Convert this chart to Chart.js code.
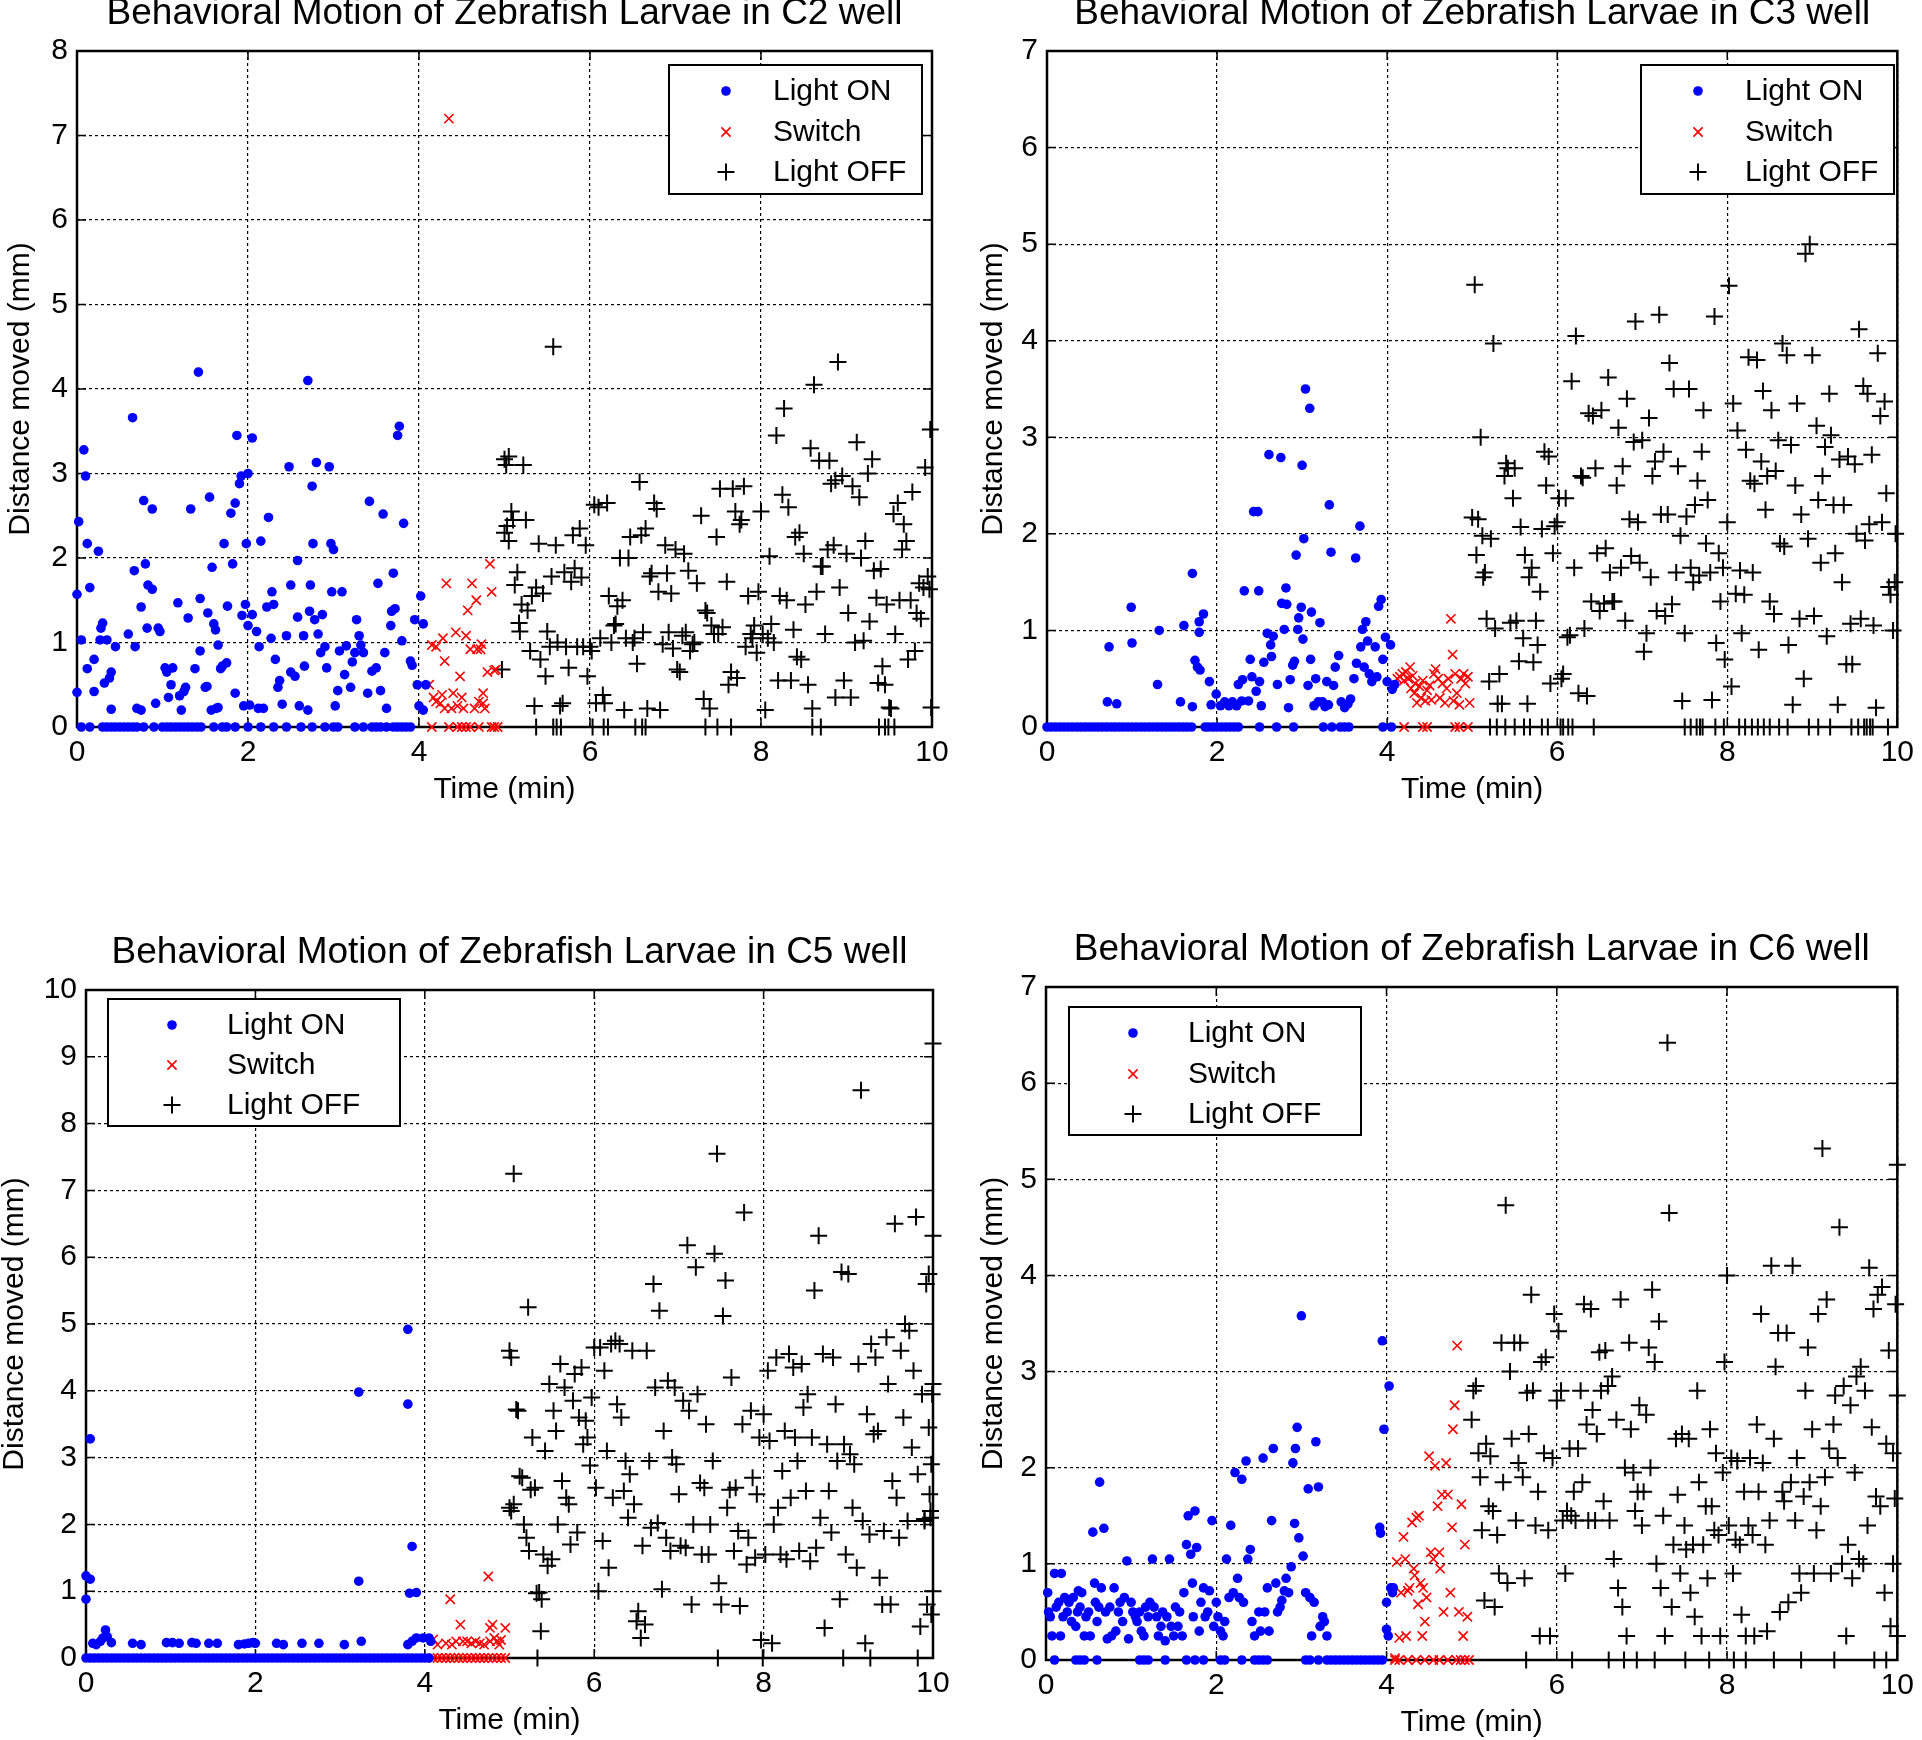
<!DOCTYPE html>
<html>
<head>
<meta charset="utf-8">
<script src="https://cdn.jsdelivr.net/npm/chart.js@4.4.1/dist/chart.umd.min.js"></script>
<style>
  html, body { margin: 0; padding: 0; background: #fff; }
  #wrap { position: relative; width: 1922px; height: 1740px; overflow: hidden; }
  canvas { position: absolute; }
</style>
</head>
<body>
<div id="wrap">
  <canvas id="c2" width="961" height="870" style="left:0;top:0"></canvas>
  <canvas id="c3" width="961" height="870" style="left:961px;top:0"></canvas>
  <canvas id="c5" width="961" height="870" style="left:0;top:870px"></canvas>
  <canvas id="c6" width="961" height="870" style="left:961px;top:870px"></canvas>
</div>
<script>
// ---- C2 well ----
const c2On = [[0,1.57],[0,0.41],[0.02,2.43],[0.05,1.03],[0.08,3.28],[0.1,2.97],[0.12,2.17],[0.15,1.65],[0.12,0.69],[0.2,0.8],[0.2,0.42],[0.25,2.08],[0.27,1.03],[0.28,1.17],[0.3,1.23],[0.32,0.52],[0.35,1.03],[0.38,0.58],[0.4,0.65],[0.4,0.21],[0.45,0.95],[0.6,1.1],[0.65,3.66],[0.67,1.85],[0.68,0.95],[0.7,0.22],[0.75,0.2],[0.75,1.42],[0.78,2.68],[0.8,1.93],[0.82,1.17],[0.83,1.68],[0.88,1.63],[0.88,2.58],[0.92,0.28],[0.95,1.17],[0.97,1.13],[1.03,0.7],[1.05,0.65],[1.07,0.35],[1.1,0.5],[1.12,0.7],[1.18,1.47],[1.2,0.37],[1.22,0.2],[1.25,0.42],[1.27,0.47],[1.3,1.29],[1.33,2.58],[1.38,0.69],[1.42,4.2],[1.44,1.52],[1.44,0.9],[1.5,0.47],[1.52,0.48],[1.55,2.72],[1.53,1.35],[1.57,0.2],[1.58,1.89],[1.6,1.22],[1.62,1.15],[1.63,0.22],[1.65,0.97],[1.65,0.23],[1.68,0.69],[1.7,0.72],[1.72,2.17],[1.75,0.76],[1.76,1.43],[1.8,2.53],[1.82,1.93],[1.85,2.65],[1.85,0.4],[1.87,3.45],[1.9,2.88],[1.92,2.97],[1.93,1.32],[1.95,0.25],[1.97,1.45],[1.98,2.17],[2,1.2],[2,3],[2.02,0.26],[2.05,1.33],[2.05,3.42],[2.1,1.13],[2.12,0.22],[2.13,0.95],[2.15,2.2],[2.18,0.22],[2.22,1.42],[2.24,2.48],[2.27,1.05],[2.28,1.6],[2.3,1.45],[2.32,0.8],[2.35,0.47],[2.37,0.55],[2.4,0.27],[2.45,1.08],[2.48,3.08],[2.5,1.68],[2.5,0.65],[2.55,0.6],[2.58,1.3],[2.58,1.97],[2.6,0.25],[2.65,1.08],[2.66,0.72],[2.7,0.2],[2.7,4.1],[2.72,1.37],[2.73,1.68],[2.75,2.85],[2.76,2.17],[2.78,1.27],[2.8,3.13],[2.82,1.1],[2.85,0.88],[2.87,1.33],[2.9,0.95],[2.92,0.7],[2.95,3.08],[2.97,2.17],[2.98,1.6],[3,2.1],[3.02,0.25],[3.05,0.43],[3.07,0.9],[3.1,1.6],[3.13,0.62],[3.15,0.96],[3.2,0.47],[3.22,0.77],[3.25,0.88],[3.27,1.27],[3.3,1.08],[3.32,0.97],[3.35,0.88],[3.4,0.4],[3.42,2.67],[3.45,0.66],[3.5,0.7],[3.52,1.7],[3.55,0.43],[3.58,2.52],[3.6,0.88],[3.62,0.22],[3.67,1.2],[3.68,1.37],[3.7,1.82],[3.72,1.4],[3.75,3.45],[3.77,3.56],[3.8,1.02],[3.82,2.41],[3.9,0.78],[3.92,0.73],[3.95,1.27],[3.98,0.5],[4,0.25],[4.02,1.55],[4.05,1.22],[4.05,0.2],[4.08,0.5]];
const c2OnZero = [0.05,0.15,0.3,0.35,0.4,0.45,0.5,0.55,0.6,0.65,0.7,0.78,0.9,1,1.05,1.1,1.15,1.2,1.25,1.3,1.35,1.4,1.45,1.6,1.7,1.75,1.85,2,2.15,2.3,2.45,2.62,2.75,2.9,3,3.05,3.25,3.35,3.45,3.5,3.55,3.62,3.7,3.75,3.8,3.85,3.9];
const c2Sw = [[4.15,0.97],[4.2,0.95],[4.12,0.5],[4.17,0.35],[4.2,0.3],[4.25,0.28],[4.27,0.38],[4.3,0.22],[4.28,1.05],[4.3,0.78],[4.32,1.7],[4.35,7.2],[4.38,0.22],[4.4,0.4],[4.43,1.12],[4.45,0.25],[4.48,0.6],[4.5,0.35],[4.52,0.22],[4.55,1.08],[4.57,1.38],[4.6,0.92],[4.62,1.7],[4.65,0.22],[4.67,1.5],[4.68,0.92],[4.7,0.3],[4.72,0.92],[4.73,0.98],[4.75,0.4],[4.77,0.22],[4.8,0.65],[4.83,1.93],[4.85,1.6],[4.88,0.67],[4.9,0.68],[4.75,0.28]];
const c2SwZero = [4.15,4.35,4.45,4.5,4.55,4.6,4.7,4.85,4.88,4.92];
const c2Off = [[4.97,0.68],[5,3.17],[5.02,3.1],[5.05,3.2],[5,2.3],[5.03,2.38],[5.05,2.2],[5.08,2.55],[5.1,2.45],[5.12,1.68],[5.15,1.83],[5.17,1.23],[5.2,1.45],[5.18,1.13],[5.22,3.1],[5.25,2.45],[5.27,1.38],[5.3,0.9],[5.32,1.55],[5.35,0.25],[5.37,1.65],[5.4,2.17],[5.42,0.8],[5.45,1.58],[5.48,0.6],[5.5,1.13],[5.53,0.95],[5.55,1.78],[5.57,4.5],[5.6,2.15],[5.62,1],[5.65,0.25],[5.68,0.28],[5.7,1.83],[5.72,0.95],[5.75,0.7],[5.78,1.72],[5.8,2.27],[5.82,1.88],[5.85,0.95],[5.88,2.35],[5.9,1.77],[5.92,0.95],[5.95,2.15],[5.97,0.6],[6,0.95],[6.02,0.9],[6.05,2.63],[6.07,0.28],[6.1,2.6],[6.12,1.05],[6.15,0.38],[6.17,0.28],[6.2,2.65],[6.22,1.55],[6.25,1],[6.28,1.2],[6.3,1.22],[6.32,1.43],[6.35,2],[6.38,1.5],[6.4,0.2],[6.42,1.05],[6.45,2],[6.47,2.25],[6.5,1],[6.52,1.05],[6.55,0.75],[6.58,2.9],[6.6,2.27],[6.62,1.12],[6.65,2.35],[6.67,0.22],[6.7,1.78],[6.72,1.82],[6.75,2.65],[6.78,2.58],[6.8,1.6],[6.82,0.2],[6.85,0.98],[6.88,2.15],[6.9,1.82],[6.92,1.12],[6.95,1.58],[6.97,0.93],[7,2.1],[7.02,0.68],[7.05,0.65],[7.08,1.08],[7.1,2.05],[7.12,1.12],[7.15,1.85],[7.17,0.9],[7.2,0.98],[7.22,1],[7.25,1.7],[7.3,2.5],[7.33,0.33],[7.35,1.38],[7.37,1.35],[7.4,0.22],[7.42,1.2],[7.45,1.1],[7.48,2.25],[7.5,1.1],[7.52,2.82],[7.55,1.18],[7.6,1.72],[7.62,0.5],[7.65,0.65],[7.67,2.82],[7.7,2.55],[7.72,0.58],[7.75,2.4],[7.77,2.45],[7.8,2.85],[7.82,0.95],[7.85,1.55],[7.88,1.1],[7.9,1.05],[7.92,1.2],[7.95,0.88],[7.97,1.6],[8,2.55],[8.02,1.1],[8.05,0.2],[8.08,1.05],[8.1,2.02],[8.12,1.22],[8.15,1],[8.18,3.45],[8.2,0.55],[8.22,1.55],[8.25,2.75],[8.27,3.77],[8.3,1.5],[8.32,2.6],[8.35,0.55],[8.38,1.15],[8.4,2.25],[8.42,0.83],[8.45,2.3],[8.47,0.8],[8.5,2.05],[8.52,1.45],[8.55,0.5],[8.58,3.3],[8.6,0.22],[8.62,4.05],[8.65,1.6],[8.68,3.15],[8.7,1.9],[8.72,1.9],[8.75,1.1],[8.78,2.1],[8.8,3.15],[8.82,2.88],[8.85,2.15],[8.87,2.92],[8.9,4.32],[8.92,1.65],[8.95,2.97],[8.97,0.55],[9,2.05],[9.02,1.35],[9.05,0.35],[9.07,2.85],[9.1,1],[9.12,3.37],[9.15,2.72],[9.17,2],[9.2,1.02],[9.22,2.2],[9.25,3],[9.27,1.25],[9.3,3.17],[9.32,1.85],[9.35,1.53],[9.37,0.52],[9.4,1.87],[9.42,0.72],[9.45,0.5],[9.47,1.45],[9.5,0.23],[9.52,0.22],[9.55,2.52],[9.57,1.1],[9.6,2.65],[9.62,1.5],[9.65,2.1],[9.67,2.4],[9.7,2.2],[9.72,0.8],[9.75,1.5],[9.77,2.78],[9.8,0.9],[9.82,1.35],[9.85,1.7],[9.87,1.28],[9.9,1.65],[9.92,3.07],[9.95,1.78],[9.97,1.63],[9.98,3.52],[9.99,0.23],[8.87,0.35]];
const c2OffZero = [5.37,5.57,5.61,5.66,6.03,6.16,6.21,6.53,6.61,6.65,7.35,7.49,7.65,8.6,8.7,9.38,9.45,9.49,9.56];

// ---- C3 well ----
const c3On = [[0.71,0.26],[0.82,0.24],[0.73,0.83],[0.99,1.24],[1,0.87],[1.3,0.44],[1.32,1],[1.57,0.26],[1.61,1.05],[1.71,1.59],[1.71,0.21],[1.74,0.69],[1.77,0.62],[1.79,1.09],[1.79,0.98],[1.8,0.59],[1.84,1.17],[1.91,0.47],[1.93,0.23],[1.99,0.34],[2.04,0.22],[2.09,0.26],[2.14,0.22],[2.18,0.26],[2.23,0.22],[2.29,0.27],[2.25,0.44],[2.3,0.49],[2.32,1.41],[2.37,0.27],[2.39,0.7],[2.41,0.52],[2.43,2.23],[2.48,2.23],[2.49,1.41],[2.46,0.37],[2.5,0.47],[2.52,0.22],[2.55,0.67],[2.59,0.97],[2.61,2.82],[2.63,0.85],[2.64,0.73],[2.66,0.94],[2.71,0.44],[2.75,2.79],[2.76,1.28],[2.79,1.01],[2.81,1.44],[2.82,1.27],[2.84,0.2],[2.86,0.49],[2.89,0.64],[2.91,0.68],[2.93,1.78],[2.95,1.01],[2.96,1.13],[2.99,1.24],[3,2.71],[3.01,0.91],[3.02,1.95],[3.04,3.5],[3.07,0.43],[3.09,3.3],[3.1,0.7],[3.11,1.19],[3.14,0.22],[3.16,0.5],[3.19,0.26],[3.21,1.08],[3.24,0.26],[3.27,0.21],[3.29,0.47],[3.31,0.23],[3.32,2.3],[3.34,1.81],[3.37,0.43],[3.39,0.62],[3.43,0.74],[3.46,0.26],[3.5,0.2],[3.54,0.24],[3.57,0.29],[3.61,0.5],[3.63,1.75],[3.64,0.66],[3.68,2.08],[3.69,0.83],[3.71,1.01],[3.73,0.62],[3.75,1.09],[3.77,0.89],[3.79,0.55],[3.82,0.47],[3.86,0.83],[3.88,0.52],[3.9,1.25],[3.93,1.32],[3.95,0.7],[3.98,0.93],[4,0.47],[4.04,0.85],[4.06,0.39],[4.09,0.44]];
const c3OnZero = [0,0.05,0.1,0.15,0.2,0.25,0.3,0.35,0.4,0.45,0.5,0.55,0.6,0.65,0.7,0.75,0.8,0.85,0.9,0.95,1,1.05,1.1,1.15,1.2,1.25,1.3,1.35,1.4,1.45,1.5,1.55,1.6,1.65,1.7,1.86,1.9,1.95,2,2.05,2.1,2.15,2.2,2.25,2.5,2.7,2.9,3.25,3.35,3.45,3.5,3.55,3.95,4.05];
const c3Sw = [[4.12,0.5],[4.15,0.52],[4.18,0.55],[4.2,0.48],[4.22,0.57],[4.25,0.5],[4.27,0.62],[4.28,0.4],[4.3,0.53],[4.32,0.35],[4.33,0.45],[4.35,0.25],[4.38,0.42],[4.4,0.3],[4.42,0.48],[4.45,0.27],[4.47,0.38],[4.5,0.43],[4.52,0.28],[4.55,0.55],[4.57,0.6],[4.6,0.5],[4.62,0.3],[4.65,0.45],[4.68,0.25],[4.7,0.4],[4.72,0.5],[4.75,1.12],[4.77,0.75],[4.78,0.27],[4.8,0.55],[4.82,0.35],[4.85,0.23],[4.87,0.5],[4.9,0.55],[4.92,0.45],[4.95,0.52],[4.97,0.25]];
const c3SwZero = [4.2,4.42,4.47,4.8,4.85,4.95];
const c3Off = [[5,2.17],[5.03,4.58],[5.05,1.78],[5.07,2.15],[5.1,3],[5.12,1.98],[5.13,1.55],[5.15,1.6],[5.17,1.12],[5.2,0.47],[5.22,1.95],[5.25,3.97],[5.27,1.02],[5.3,0.24],[5.32,0.55],[5.35,0.24],[5.38,2.6],[5.4,2.73],[5.42,2.68],[5.45,1.08],[5.48,2.37],[5.5,2.68],[5.52,1.1],[5.55,0.68],[5.57,2.07],[5.6,0.92],[5.62,1.78],[5.65,0.24],[5.67,1.55],[5.7,1.65],[5.72,0.67],[5.75,1.1],[5.77,0.85],[5.8,1.4],[5.82,2.05],[5.85,2.85],[5.87,2.5],[5.9,2.8],[5.92,0.45],[5.95,1.8],[5.97,2.08],[6,2.12],[6.02,2.37],[6.05,0.5],[6.07,0.55],[6.1,2.37],[6.12,0.93],[6.15,0.95],[6.17,3.58],[6.2,1.65],[6.22,4.05],[6.25,0.35],[6.28,2.6],[6.3,2.58],[6.32,1.02],[6.35,0.32],[6.37,3.25],[6.4,1.3],[6.42,3.22],[6.45,2.68],[6.47,1.8],[6.5,1.2],[6.52,3.28],[6.55,1.28],[6.57,1.85],[6.6,3.62],[6.62,1.6],[6.65,1.3],[6.67,1.3],[6.7,2.5],[6.72,3.1],[6.75,1.65],[6.77,2.7],[6.8,1.1],[6.82,3.4],[6.85,2.15],[6.87,1.77],[6.9,2.95],[6.92,4.2],[6.95,2.12],[6.97,1.7],[7,2.97],[7.02,0.78],[7.05,0.97],[7.08,3.2],[7.1,1.55],[7.12,2.6],[7.15,2.75],[7.17,1.2],[7.2,4.27],[7.22,2.2],[7.25,2.85],[7.27,1.15],[7.3,2.2],[7.32,3.77],[7.35,1.27],[7.37,3.5],[7.4,1.6],[7.42,2.7],[7.45,1.98],[7.47,0.27],[7.5,0.97],[7.52,2.18],[7.55,3.5],[7.57,1.65],[7.6,1.5],[7.62,2.3],[7.65,2.55],[7.67,1.57],[7.7,2.85],[7.72,3.28],[7.75,1.9],[7.77,2.35],[7.8,1.6],[7.82,0.28],[7.85,4.25],[7.87,0.87],[7.9,1.8],[7.92,1.3],[7.95,1.65],[7.97,0.7],[8,2.12],[8.02,4.57],[8.05,0.42],[8.07,3.35],[8.1,1.38],[8.12,3.07],[8.15,1.62],[8.17,0.97],[8.2,1.37],[8.22,2.87],[8.25,3.83],[8.27,2.55],[8.3,1.6],[8.32,2.52],[8.35,3.8],[8.37,0.8],[8.4,2.75],[8.42,3.48],[8.45,2.25],[8.47,2.6],[8.5,1.3],[8.52,3.28],[8.55,1.17],[8.57,2.65],[8.6,2.97],[8.62,1.9],[8.65,3.97],[8.67,1.87],[8.7,3.85],[8.72,0.85],[8.75,2.92],[8.77,0.23],[8.8,2.5],[8.82,3.35],[8.85,1.12],[8.87,2.2],[8.9,0.5],[8.92,4.9],[8.95,1.95],[8.97,5],[9,3.85],[9.02,1.15],[9.05,3.12],[9.07,2.35],[9.1,1.7],[9.12,2.6],[9.15,2.9],[9.17,0.94],[9.2,3.45],[9.22,3.02],[9.25,2.3],[9.27,1.8],[9.3,0.23],[9.32,2.77],[9.35,1.5],[9.37,2.3],[9.4,0.65],[9.42,2.8],[9.45,1.07],[9.47,0.65],[9.5,2.72],[9.52,2],[9.55,4.12],[9.57,1.12],[9.6,3.53],[9.62,1.93],[9.65,3.45],[9.67,2.1],[9.7,2.82],[9.72,1.05],[9.75,0.2],[9.77,3.87],[9.8,3.22],[9.82,2.12],[9.85,3.37],[9.87,2.42],[9.9,1.45],[9.92,1.37],[9.95,1],[9.97,1.5],[9.98,2]];
const c3OffZero = [5.21,5.29,5.39,5.5,5.61,5.68,5.82,5.89,6.04,6.07,6.13,6.18,6.43,7.5,7.57,7.64,7.68,7.71,7.86,7.96,8.14,8.21,8.29,8.36,8.43,8.5,8.61,8.71,8.96,9.07,9.21,9.46,9.54,9.61,9.64,9.68,9.71,9.89];

// ---- C5 well ----
const c5On = [[0,0.88],[0,1.23],[0.05,1.18],[0.05,3.28],[0.08,0.22],[0.12,0.2],[0.17,0.25],[0.2,0.3],[0.23,0.42],[0.25,0.32],[0.3,0.23],[0.55,0.22],[0.65,0.2],[0.95,0.23],[1.02,0.23],[1.1,0.22],[1.25,0.23],[1.3,0.22],[1.45,0.22],[1.55,0.22],[1.8,0.2],[1.87,0.21],[1.92,0.22],[1.97,0.23],[2,0.22],[2.25,0.22],[2.33,0.2],[2.55,0.22],[2.75,0.22],[3.05,0.2],[3.22,3.98],[3.22,1.15],[3.25,0.25],[3.8,4.92],[3.8,3.8],[3.85,1.67],[3.82,0.97],[3.9,0.98],[3.8,0.2],[3.85,0.25],[3.9,0.3],[3.98,0.3],[4.05,0.3],[4.07,0.25]];
const c5OnZero = [0,0.05,0.1,0.15,0.2,0.25,0.3,0.35,0.4,0.45,0.5,0.55,0.6,0.65,0.7,0.75,0.8,0.85,0.9,0.95,1,1.05,1.1,1.15,1.2,1.25,1.3,1.35,1.4,1.45,1.5,1.55,1.6,1.65,1.7,1.75,1.8,1.85,1.9,1.95,2,2.05,2.1,2.15,2.2,2.25,2.3,2.35,2.4,2.45,2.5,2.55,2.6,2.65,2.7,2.75,2.8,2.85,2.9,2.95,3,3.05,3.1,3.15,3.2,3.25,3.3,3.35,3.4,3.45,3.5,3.55,3.6,3.65,3.7,3.75,3.8,3.85,3.9,3.95,4,4.05];
const c5Sw = [[4.1,0.28],[4.15,0.2],[4.25,0.22],[4.3,0.88],[4.32,0.2],[4.37,0.25],[4.42,0.5],[4.45,0.25],[4.5,0.25],[4.55,0.22],[4.6,0.25],[4.65,0.22],[4.7,0.2],[4.75,1.22],[4.77,0.45],[4.8,0.5],[4.82,0.3],[4.85,0.25],[4.88,0.2],[4.9,0.27],[4.95,0.45],[4.77,0.25]];
const c5SwZero = [4.1,4.15,4.2,4.25,4.3,4.35,4.4,4.45,4.5,4.55,4.6,4.65,4.7,4.75,4.8,4.85,4.9,4.95];
const c5Off = [[5,4.6],[5.02,4.5],[5.05,7.25],[5,2.25],[5.02,2.2],[5.05,2.3],[5.08,3.72],[5.1,3.7],[5.12,2.72],[5.15,2.7],[5.17,2],[5.2,1.8],[5.22,5.25],[5.23,1.6],[5.25,2.52],[5.27,3.3],[5.3,2.55],[5.32,0.97],[5.35,0.98],[5.37,0.4],[5.38,0.88],[5.4,1.55],[5.42,3.1],[5.45,1.38],[5.47,4.1],[5.5,1.48],[5.52,3.7],[5.55,3.4],[5.57,2],[5.6,4.4],[5.62,2.65],[5.65,4.05],[5.67,2.4],[5.7,2.3],[5.72,1.7],[5.75,3.85],[5.77,4.25],[5.8,1.88],[5.82,3.6],[5.85,4.35],[5.87,3.2],[5.9,3.55],[5.92,3.3],[5.95,2.88],[5.97,3.9],[6,4.65],[6.02,2.55],[6.05,1],[6.07,4.65],[6.1,1.75],[6.12,4.3],[6.15,3.1],[6.17,1.35],[6.2,4.7],[6.22,2.4],[6.25,4.75],[6.27,3.8],[6.3,4.7],[6.32,3.6],[6.35,2.5],[6.37,2.95],[6.4,2.1],[6.42,2.75],[6.45,4.6],[6.47,2.3],[6.5,0.55],[6.52,0.7],[6.55,0.3],[6.57,1.68],[6.6,0.5],[6.62,4.6],[6.65,2.95],[6.67,1.95],[6.7,5.6],[6.72,4.05],[6.75,2.02],[6.77,5.2],[6.8,1.03],[6.82,3.4],[6.85,1.8],[6.87,4.15],[6.9,1.6],[6.92,3],[6.95,4.05],[6.97,2.9],[7,2.45],[7.02,1.68],[7.05,3.85],[7.08,1.65],[7.1,6.18],[7.12,3.7],[7.15,0.8],[7.17,2],[7.2,5.85],[7.22,3.95],[7.25,2.62],[7.27,1.55],[7.3,2.55],[7.32,3.5],[7.35,1.55],[7.37,2],[7.4,2.95],[7.42,6.05],[7.45,7.55],[7.47,1.12],[7.5,0.8],[7.52,5.12],[7.55,5.65],[7.57,2.25],[7.6,2.52],[7.62,4.2],[7.65,1.6],[7.67,2.55],[7.7,1.9],[7.72,0.78],[7.75,3.5],[7.77,6.67],[7.8,1.4],[7.82,1.8],[7.85,3.7],[7.87,2.7],[7.9,1.5],[7.92,2.45],[7.95,3.3],[7.97,0.27],[8,3.65],[8.02,1.55],[8.05,4.3],[8.07,3.25],[8.1,0.22],[8.12,2],[8.15,4.5],[8.17,2.25],[8.2,1.55],[8.22,2.8],[8.25,3.4],[8.27,1.48],[8.3,4.55],[8.32,2.4],[8.35,4.35],[8.37,3.3],[8.4,2.95],[8.42,1.6],[8.45,4.4],[8.47,3.75],[8.5,2.5],[8.52,3.95],[8.55,1.45],[8.57,3.3],[8.6,5.5],[8.62,1.65],[8.65,6.32],[8.67,2.1],[8.7,4.55],[8.72,0.45],[8.75,3.2],[8.77,2.5],[8.8,1.88],[8.82,4.5],[8.85,3.8],[8.87,2.95],[8.9,0.88],[8.92,5.78],[8.95,3.2],[8.97,1.55],[9,5.75],[9.02,3.05],[9.05,2.25],[9.07,2.9],[9.1,1.35],[9.12,4.4],[9.15,8.5],[9.17,2.05],[9.2,0.22],[9.22,3.65],[9.25,1.85],[9.27,4.7],[9.3,3.35],[9.32,4.5],[9.35,3.4],[9.37,1.2],[9.4,0.8],[9.42,1.9],[9.45,4.8],[9.47,4.1],[9.5,0.8],[9.52,2.65],[9.55,6.5],[9.57,2.4],[9.6,1.8],[9.62,4.6],[9.65,3.6],[9.67,5],[9.7,2.05],[9.72,4.9],[9.75,3.15],[9.77,4.3],[9.8,6.6],[9.82,2.75],[9.85,0.47],[9.87,3.95],[9.9,2.05],[9.92,5.6],[9.95,5.75],[9.97,2.1],[9.98,0.65],[10,4.1],[10,1],[9.95,3.45],[9.9,2.08],[9.93,0.8],[10,9.2],[10,6.32],[9.97,2.2],[9.98,2.9],[9.99,3.95],[9.96,2.45]];
const c5OffZero = [5.33,7.46,7.99,8.94,9.26,9.82];

// ---- C6 well ----
const c6On = [[0.02,0.7],[0.03,0.5],[0.05,0.45],[0.07,0.25],[0.1,0.9],[0.12,0.55],[0.15,0.6],[0.17,0.25],[0.18,0.9],[0.2,0.45],[0.22,0.65],[0.25,0.5],[0.27,0.6],[0.3,0.4],[0.32,0.65],[0.35,0.35],[0.37,0.5],[0.38,0.72],[0.4,0.55],[0.42,0.7],[0.45,0.25],[0.47,0.45],[0.5,0.5],[0.52,0.25],[0.55,1.33],[0.57,0.8],[0.58,0.6],[0.6,0.4],[0.62,0.55],[0.63,1.85],[0.65,0.75],[0.68,1.37],[0.7,0.5],[0.72,0.22],[0.75,0.55],[0.77,0.25],[0.8,0.75],[0.82,0.3],[0.85,0.5],[0.87,0.6],[0.9,0.4],[0.92,0.65],[0.95,1.03],[0.97,0.22],[1,0.6],[1.02,0.5],[1.05,0.45],[1.07,0.4],[1.1,0.5],[1.12,0.3],[1.15,0.25],[1.17,0.55],[1.2,0.45],[1.22,0.6],[1.25,1.05],[1.27,0.55],[1.3,0.45],[1.32,0.25],[1.35,0.35],[1.37,0.5],[1.4,0.2],[1.42,0.45],[1.45,1.05],[1.47,0.35],[1.5,0.25],[1.52,0.55],[1.55,0.35],[1.57,0.5],[1.6,0.25],[1.62,0.7],[1.65,1.2],[1.67,1.5],[1.7,1.1],[1.72,0.8],[1.73,0.45],[1.75,1.55],[1.77,1.17],[1.8,0.3],[1.82,0.6],[1.85,0.75],[1.87,0.45],[1.9,0.5],[1.92,0.72],[1.95,1.45],[1.97,0.35],[2,0.6],[2.02,0.45],[2.05,0.3],[2.08,0.25],[2.1,0.4],[2.12,1.05],[2.15,0.65],[2.17,1.4],[2.2,0.7],[2.22,1.95],[2.25,0.85],[2.27,0.65],[2.3,1.88],[2.32,0.6],[2.35,2.07],[2.37,1.05],[2.4,1.15],[2.42,0.4],[2.45,0.25],[2.5,0.5],[2.52,0.3],[2.55,2.1],[2.57,0.5],[2.6,0.75],[2.62,0.3],[2.65,1.45],[2.67,2.2],[2.7,0.8],[2.72,0.5],[2.75,0.55],[2.77,0.62],[2.8,0.72],[2.82,0.85],[2.85,0.7],[2.88,0.97],[2.9,2.05],[2.92,1.42],[2.93,2.2],[2.95,2.42],[2.97,1.27],[3,3.58],[3.02,1.08],[3.05,0.7],[3.08,1.78],[3.1,0.65],[3.12,0.25],[3.15,0.6],[3.17,2.27],[3.2,1.8],[3.22,0.35],[3.25,0.45],[3.27,0.4],[3.3,0.25],[3.92,1.38],[3.93,1.32],[3.95,3.32],[3.97,2.4],[4,0.6],[4.02,0.25],[4.03,2.85],[4.05,0.75],[4.07,0.7],[4,0.32],[4.08,0.75]];
const c6OnZero = [0.1,0.35,0.4,0.45,0.6,1.1,1.15,1.2,1.4,1.65,1.75,1.85,2.05,2.1,2.3,2.45,2.5,2.55,2.6,3.05,3.1,3.2,3.3,3.35,3.4,3.45,3.5,3.55,3.6,3.65,3.7,3.75,3.8,3.85,3.9,3.95];
const c6Sw = [[4.1,0.02],[4.12,1.02],[4.15,0.23],[4.17,0.7],[4.2,1.28],[4.22,1.05],[4.23,0.25],[4.25,0.72],[4.27,0.75],[4.3,1.43],[4.32,0.95],[4.33,0.88],[4.35,1.48],[4.37,0.58],[4.38,1.5],[4.4,0.8],[4.42,0.25],[4.43,0.75],[4.45,0.4],[4.47,0.65],[4.5,2.12],[4.52,1.12],[4.55,1.05],[4.57,2.02],[4.6,1.6],[4.62,1.12],[4.63,0.95],[4.65,1.72],[4.67,0.5],[4.7,2.05],[4.72,1.72],[4.75,0.7],[4.77,1.38],[4.78,2.4],[4.8,2.65],[4.83,3.27],[4.85,0.5],[4.88,1.62],[4.9,0.25],[4.92,1.2],[4.95,0.45]];
const c6SwZero = [4.1,4.15,4.25,4.35,4.45,4.55,4.62,4.72,4.82,4.87,4.92,4.97];
const c6Off = [[5,2.5],[5.02,2.8],[5.05,2.85],[5.08,2.15],[5.1,1.9],[5.12,1.35],[5.15,0.62],[5.17,2.25],[5.2,1.6],[5.22,2.12],[5.25,1.55],[5.27,0.55],[5.3,1.3],[5.32,0.9],[5.35,3.3],[5.37,1.85],[5.4,4.73],[5.42,0.8],[5.45,3],[5.47,2.3],[5.5,3.3],[5.52,1.45],[5.55,2.05],[5.57,3.3],[5.6,1.9],[5.62,0.85],[5.65,2.78],[5.67,2.35],[5.7,3.8],[5.72,2.8],[5.75,1.4],[5.78,1.75],[5.8,0.25],[5.82,3.1],[5.85,2.15],[5.87,3.15],[5.9,1.35],[5.92,0.25],[5.95,2.1],[5.97,3.6],[6,2.7],[6.02,3.42],[6.05,2.8],[6.07,1.45],[6.1,0.9],[6.12,1.55],[6.15,2.2],[6.17,1.5],[6.2,1.75],[6.22,1.45],[6.25,2.2],[6.28,2.8],[6.3,1.85],[6.32,3.7],[6.35,2.45],[6.37,1.45],[6.4,3.65],[6.42,2.6],[6.45,1.45],[6.47,2.35],[6.5,3.2],[6.52,2.8],[6.55,1.65],[6.57,3.22],[6.6,2.85],[6.62,1.45],[6.65,2.95],[6.67,1.05],[6.7,2.5],[6.72,0.75],[6.75,3.75],[6.77,0.55],[6.8,2],[6.82,0.25],[6.85,3.3],[6.87,2.4],[6.9,1.95],[6.92,1.55],[6.95,1.75],[6.97,2.65],[7,1.4],[7.02,1.75],[7.05,2.55],[7.08,3.25],[7.1,2],[7.12,3.85],[7.15,3.1],[7.17,1],[7.2,3.52],[7.22,0.75],[7.25,1.5],[7.27,0.25],[7.3,6.42],[7.32,4.65],[7.35,0.55],[7.37,1.2],[7.4,2.3],[7.42,1.72],[7.45,0.9],[7.47,2.35],[7.5,1.4],[7.52,1.15],[7.55,2.3],[7.57,0.7],[7.6,1.2],[7.62,0.45],[7.65,2.8],[7.67,1.85],[7.7,0.25],[7.72,1.2],[7.75,1.6],[7.77,0.85],[7.8,2.4],[7.82,1.6],[7.85,1.35],[7.87,2.15],[7.9,1.3],[7.92,0.25],[7.95,1.95],[7.97,3.1],[8,4],[8.02,1.4],[8.05,2.1],[8.07,0.9],[8.1,1.25],[8.12,2.07],[8.15,1.2],[8.17,0.47],[8.2,1.75],[8.22,0.25],[8.25,1.4],[8.27,2.1],[8.3,1.3],[8.32,0.25],[8.35,2.45],[8.37,1.75],[8.4,3.6],[8.42,2.05],[8.45,1.2],[8.47,0.3],[8.5,1.45],[8.52,4.1],[8.55,2.3],[8.57,3.05],[8.6,3.4],[8.62,0.5],[8.65,1.75],[8.67,1.65],[8.7,3.4],[8.72,0.6],[8.75,1.85],[8.77,4.1],[8.8,1.45],[8.82,2.1],[8.85,0.9],[8.87,0.7],[8.9,1.7],[8.92,2.8],[8.95,3.25],[8.97,1.85],[9,2.4],[9.02,0.9],[9.05,1.35],[9.07,3.6],[9.1,1.6],[9.12,5.32],[9.15,1.9],[9.17,3.75],[9.2,2.2],[9.22,0.9],[9.25,2.45],[9.27,2.75],[9.3,2.1],[9.32,4.5],[9.35,1],[9.37,2.85],[9.4,0.25],[9.42,1.2],[9.45,2.65],[9.47,0.85],[9.5,1.95],[9.52,2.95],[9.55,1.05],[9.57,3.05],[9.6,1],[9.62,2.8],[9.65,1.4],[9.67,4.08],[9.7,2.42],[9.72,3.65],[9.75,1.7],[9.77,3.8],[9.8,1.6],[9.82,3.88],[9.85,0.7],[9.87,2.25],[9.9,3.22],[9.92,0.35],[9.95,2.15],[9.97,1.68],[9.98,3.7],[10,5.15],[10,2.75],[10,0.25],[9.95,1]];
const c6OffZero = [5.64,6.18,6.61,6.79,6.94,7.15,7.51,7.79,8.08,8.22,8.55,8.87,9.26,9.73,9.87];

const seriesLabels = ["Light ON", "Switch", "Light OFF"];
const xTicksMax = 10;

const FONT = '"Liberation Sans", Arial, Helvetica, sans-serif';

// Layout of each panel in page pixels: canvas box and plot area
const panels = [
  { id: "c2", title: "Behavioral Motion of Zebrafish Larvae in C2 well", yMax: 8,
    box: [0, 0, 961, 870], plot: [77, 51, 932, 727], yLabelOff: 56,
    legend: { left: 669, top: 65, w: 253, h: 129, mx: 57, tx: 104, rows: [26, 67, 107] },
    on: c2On, onZero: c2OnZero, sw: c2Sw, swZero: c2SwZero, off: c2Off, offZero: c2OffZero },
  { id: "c3", title: "Behavioral Motion of Zebrafish Larvae in C3 well", yMax: 7,
    box: [961, 0, 961, 870], plot: [1047, 51, 1904, 727], yLabelOff: 53,
    legend: { left: 1641, top: 65, w: 253, h: 129, mx: 57, tx: 104, rows: [26, 67, 107] },
    on: c3On, onZero: c3OnZero, sw: c3Sw, swZero: c3SwZero, off: c3Off, offZero: c3OffZero },
  { id: "c5", title: "Behavioral Motion of Zebrafish Larvae in C5 well", yMax: 10,
    box: [0, 870, 961, 870], plot: [86, 990, 933, 1658], yLabelOff: 71,
    legend: { left: 108, top: 999, w: 292, h: 127, mx: 64, tx: 119, rows: [26, 66, 106] },
    on: c5On, onZero: c5OnZero, sw: c5Sw, swZero: c5SwZero, off: c5Off, offZero: c5OffZero },
  { id: "c6", title: "Behavioral Motion of Zebrafish Larvae in C6 well", yMax: 7,
    box: [961, 870, 961, 870], plot: [1046, 987, 1901, 1660], yLabelOff: 52,
    legend: { left: 1069, top: 1007, w: 292, h: 128, mx: 64, tx: 119, rows: [26, 67, 107] },
    on: c6On, onZero: c6OnZero, sw: c6Sw, swZero: c6SwZero, off: c6Off, offZero: c6OffZero },
];

const styles = [
  { pointStyle: "circle", pointRadius: 4.8, backgroundColor: "#0000ff", borderColor: "#0000ff", borderWidth: 0 },
  { pointStyle: "crossRot", pointRadius: 6.5, backgroundColor: "#ff0000", borderColor: "#ff0000", borderWidth: 1.6 },
  { pointStyle: "cross", pointRadius: 8.5, backgroundColor: "#000000", borderColor: "#000000", borderWidth: 2 },
];

function toPoints(pairs, zeros) {
  const pts = pairs.map((p) => ({ x: p[0], y: p[1] }));
  zeros.forEach((x) => pts.push({ x: x, y: 0 }));
  return pts;
}

// Frame, inward ticks, titles and legend in the MATLAB look
const matlabAxes = {
  id: "matlabAxes",
  beforeDatasetsDraw(chart, args, opts) {
    const { ctx, chartArea: a, scales } = chart;
    ctx.save();
    ctx.strokeStyle = "#000";
    ctx.setLineDash([]);
    ctx.lineWidth = 1.5;
    ctx.beginPath();
    scales.x.ticks.forEach((t) => {
      const px = scales.x.getPixelForValue(t.value);
      ctx.moveTo(px, a.bottom); ctx.lineTo(px, a.bottom - 9);
      ctx.moveTo(px, a.top); ctx.lineTo(px, a.top + 9);
    });
    scales.y.ticks.forEach((t) => {
      const py = scales.y.getPixelForValue(t.value);
      ctx.moveTo(a.left, py); ctx.lineTo(a.left + 9, py);
      ctx.moveTo(a.right, py); ctx.lineTo(a.right - 9, py);
    });
    ctx.stroke();
    ctx.lineWidth = 2.5;
    ctx.strokeRect(a.left, a.top, a.right - a.left, a.bottom - a.top);
    ctx.restore();
  },
  afterDraw(chart, args, opts) {
    const { ctx, chartArea: a } = chart;
    const p = opts.panel;
    const ox = p.box[0], oy = p.box[1];
    const cx = (a.left + a.right) / 2;
    ctx.save();
    ctx.fillStyle = "#000";
    ctx.textAlign = "center";
    ctx.textBaseline = "middle";
    ctx.font = "37px " + FONT;
    ctx.fillText(p.title, cx, a.top - 37);
    ctx.font = "30px " + FONT;
    ctx.fillText("Time (min)", cx, a.bottom + 63);
    ctx.save();
    ctx.translate(a.left - p.yLabelOff, (a.top + a.bottom) / 2);
    ctx.rotate(-Math.PI / 2);
    ctx.fillText("Distance moved (mm)", 0, 0);
    ctx.restore();

    // legend
    const L = p.legend;
    const lx = L.left - ox, ly = L.top - oy;
    ctx.fillStyle = "#fff";
    ctx.fillRect(lx, ly, L.w, L.h);
    ctx.strokeStyle = "#000";
    ctx.lineWidth = 2;
    ctx.strokeRect(lx, ly, L.w, L.h);
    ctx.textAlign = "left";
    ctx.font = "30px " + FONT;
    seriesLabels.forEach((lab, i) => {
      const s = styles[i];
      const yy = ly + L.rows[i];
      ctx.fillStyle = s.backgroundColor;
      ctx.strokeStyle = s.borderColor;
      ctx.lineWidth = s.borderWidth;
      Chart.helpers.drawPoint(ctx, { pointStyle: s.pointStyle, radius: s.pointRadius, rotation: 0, borderWidth: s.borderWidth }, lx + L.mx, yy);
      ctx.fillStyle = "#000";
      ctx.fillText(lab, lx + L.tx, yy + 1);
    });
    ctx.restore();
  },
};

panels.forEach((p) => {
  const [bx, by, bw, bh] = p.box;
  const [pl, pt, pr, pb] = p.plot;
  const yW = pl - bx, xH = by + bh - pb;
  const padTop = pt - by, padRight = bx + bw - pr;
  const sets = [toPoints(p.on, p.onZero), toPoints(p.sw, p.swZero), toPoints(p.off, p.offZero)];

  new Chart(document.getElementById(p.id), {
    type: "scatter",
    data: {
      datasets: sets.map((d, i) => ({
        label: seriesLabels[i],
        data: d,
        showLine: false,
        clip: false,
        pointHoverRadius: styles[i].pointRadius,
        ...styles[i],
      })),
    },
    options: {
      responsive: false,
      animation: false,
      devicePixelRatio: 1,
      layout: { padding: { top: padTop, right: padRight, left: 0, bottom: 0 } },
      plugins: {
        legend: { display: false },
        tooltip: { enabled: false },
        title: { display: false },
        matlabAxes: { panel: p },
      },
      scales: {
        x: {
          type: "linear",
          min: 0,
          max: xTicksMax,
          ticks: { stepSize: 2, color: "#000", font: { family: FONT, size: 30 }, padding: 8, maxRotation: 0, autoSkip: false },
          grid: { color: "#000", lineWidth: 1.2, drawTicks: false },
          border: { display: false, dash: [3, 3] },
          afterFit(s) { s.height = xH; },
        },
        y: {
          type: "linear",
          min: 0,
          max: p.yMax,
          ticks: { stepSize: 1, color: "#000", font: { family: FONT, size: 30 }, padding: 9, autoSkip: false },
          grid: { color: "#000", lineWidth: 1.2, drawTicks: false },
          border: { display: false, dash: [3, 3] },
          afterFit(s) { s.width = yW; },
        },
      },
    },
    plugins: [matlabAxes],
  });
});
</script>
</body>
</html>
